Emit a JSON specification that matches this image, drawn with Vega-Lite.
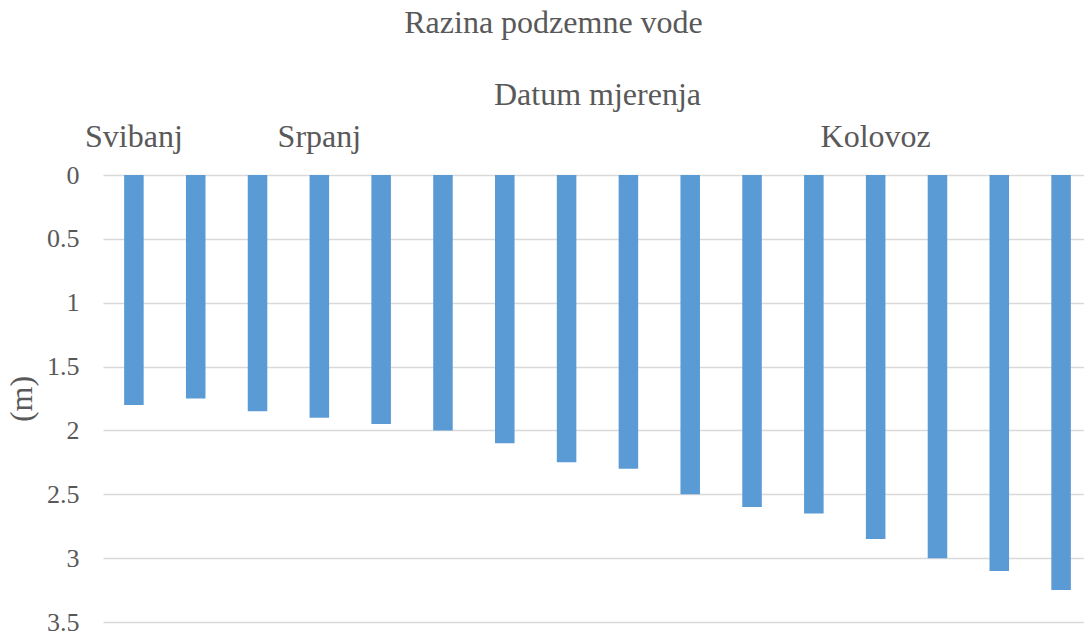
{
  "$schema": "https://vega.github.io/schema/vega-lite/v6.json",
  "width": 981,
  "height": 447,
  "autosize": {"type": "none"},
  "padding": {"left": 103, "top": 175, "right": 0, "bottom": 13},
  "background": "white",
  "title": {
    "text": "Razina podzemne vode",
    "font": "'Liberation Serif', 'Times New Roman', Times, serif",
    "fontSize": 32,
    "fontWeight": "normal",
    "color": "#595959",
    "anchor": "middle",
    "dx": -40,
    "offset": 38
  },
  "data": {
    "values": [
      {"n": 1, "mjesec": "Svibanj", "dubina": 1.8},
      {"n": 2, "mjesec": "", "dubina": 1.75},
      {"n": 3, "mjesec": "", "dubina": 1.85},
      {"n": 4, "mjesec": "Srpanj", "dubina": 1.9},
      {"n": 5, "mjesec": "", "dubina": 1.95},
      {"n": 6, "mjesec": "", "dubina": 2.0},
      {"n": 7, "mjesec": "", "dubina": 2.1},
      {"n": 8, "mjesec": "", "dubina": 2.25},
      {"n": 9, "mjesec": "", "dubina": 2.3},
      {"n": 10, "mjesec": "", "dubina": 2.5},
      {"n": 11, "mjesec": "", "dubina": 2.6},
      {"n": 12, "mjesec": "", "dubina": 2.65},
      {"n": 13, "mjesec": "Kolovoz", "dubina": 2.85},
      {"n": 14, "mjesec": "", "dubina": 3.0},
      {"n": 15, "mjesec": "", "dubina": 3.1},
      {"n": 16, "mjesec": "", "dubina": 3.25}
    ]
  },
  "mark": {"type": "bar", "color": "#5b9bd5"},
  "encoding": {
    "x": {
      "field": "n",
      "type": "ordinal",
      "scale": {"range": [0, 989], "paddingInner": 0.684, "paddingOuter": 0.342},
      "axis": {
        "orient": "top",
        "title": "Datum mjerenja",
        "labelExpr": "datum.value == 1 ? 'Svibanj' : datum.value == 4 ? 'Srpanj' : datum.value == 13 ? 'Kolovoz' : ''",
        "labelAngle": 0,
        "labelOverlap": false,
        "domain": false,
        "ticks": false,
        "tickSize": 0,
        "grid": false,
        "labelPadding": 22,
        "labelFont": "'Liberation Serif', 'Times New Roman', Times, serif",
        "labelFontSize": 32,
        "labelColor": "#595959",
        "titleFont": "'Liberation Serif', 'Times New Roman', Times, serif",
        "titleFontSize": 32,
        "titleFontWeight": "normal",
        "titleColor": "#595959",
        "titlePadding": 9,
        "titleX": 494
      }
    },
    "y": {
      "field": "dubina",
      "type": "quantitative",
      "scale": {"domain": [0, 3.5], "reverse": true, "nice": false, "zero": true},
      "axis": {
        "title": "(m)",
        "values": [0, 0.5, 1, 1.5, 2, 2.5, 3, 3.5],
        "format": "~g",
        "grid": true,
        "gridColor": "#d9d9d9",
        "gridWidth": 1.3,
        "domain": false,
        "ticks": false,
        "tickSize": 0,
        "labelPadding": 24,
        "labelFont": "'Liberation Serif', 'Times New Roman', Times, serif",
        "labelFontSize": 26,
        "labelColor": "#595959",
        "titleFont": "'Liberation Serif', 'Times New Roman', Times, serif",
        "titleFontSize": 32,
        "titleFontWeight": "normal",
        "titleColor": "#595959",
        "titlePadding": 8
      }
    }
  },
  "config": {"view": {"stroke": null}}
}
